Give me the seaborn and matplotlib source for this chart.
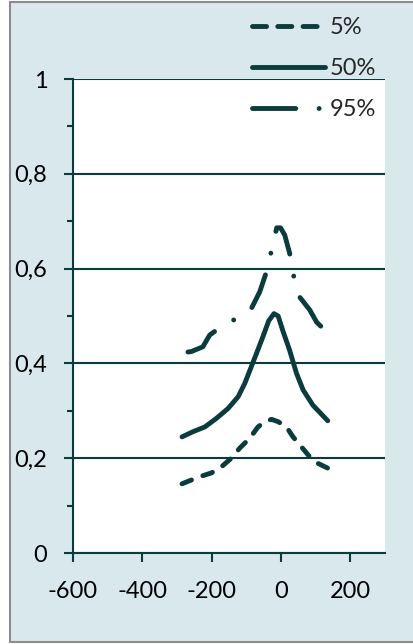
import matplotlib
matplotlib.use("Agg")
import matplotlib.pyplot as plt
import seaborn as sns
from matplotlib.lines import Line2D
from matplotlib.patches import Rectangle
from matplotlib.ticker import MultipleLocator, FuncFormatter

# datos
x_p5 = [-285, -234, -200, -171, -143, -119, -90, -66, -47, -27, -8, 16, 35, 59, 83, 107, 135]
y_p5 = [0.146, 0.161, 0.169, 0.182, 0.200, 0.221, 0.242, 0.266, 0.277, 0.282, 0.277,
        0.266, 0.245, 0.224, 0.203, 0.189, 0.179]

x_p50 = [-285, -253, -219, -186, -152, -123, -104, -88, -72, -52, -35, -20, -8, 6, 25,
         45, 64, 92, 135]
y_p50 = [0.245, 0.256, 0.266, 0.284, 0.305, 0.330, 0.358, 0.388, 0.418, 0.456, 0.490,
         0.505, 0.500, 0.468, 0.428, 0.379, 0.344, 0.312, 0.279]

x_p95 = [-268, -258, -225, -205, -186, -133, -87, -61, -38, -24, -12, -1, 11, 25, 37,
         54, 83, 103, 117, 135]
y_p95 = [0.424, 0.425, 0.435, 0.460, 0.470, 0.493, 0.513, 0.551, 0.601, 0.650, 0.686,
         0.686, 0.671, 0.633, 0.584, 0.540, 0.513, 0.487, 0.477, 0.477]

labels = ["5%", "50%", "95%"]
xticks = [-600, -400, -200, 0, 200]
yticks = [0, 0.2, 0.4, 0.6, 0.8, 1]

sns.set_theme(style="white")
plt.rcParams["font.family"] = ["Lato", "DejaVu Sans"]
plt.rcParams["axes.unicode_minus"] = False

teal = "#0b3b3c"
fondo = "#d9e8ed"
lw = 3.5
estilos = [(0, (2.1, 2.5)), "-", (0, (7.3, 4.6, 0.01, 4.6))]
# en la leyenda los trazos salen algo más largos
estilos_leyenda = [(0, (2.9, 2.3)), "-", (0, (8.9, 4.8, 0.01, 4.6))]

fig = plt.figure(figsize=(4.13, 6.44), dpi=100, facecolor="white")
fig.patches.append(Rectangle((10 / 413, 2 / 644), 1.2, 640 / 644, transform=fig.transFigure,
                             facecolor=fondo, edgecolor="#8c8c8c", linewidth=1.5, zorder=-10))

ax = fig.add_axes([72.7 / 413, 1 - 553 / 644, (385 - 72.7) / 413, (553 - 79) / 644])
ax.set_facecolor("white")

series = [(x_p5, y_p5), (x_p50, y_p50), (x_p95, y_p95)]
for (xs, ys), ls in zip(series, estilos):
    sns.lineplot(x=xs, y=ys, ax=ax, color=teal, lw=lw, linestyle=ls, sort=False,
                 dash_capstyle="round", solid_capstyle="round", solid_joinstyle="round")

handles = [Line2D([], [], color=teal, lw=lw, linestyle=ls,
                  dash_capstyle="round", solid_capstyle="round")
           for ls in estilos_leyenda]

ax.set_xlim(-600, 300)
ax.set_ylim(0, 1)
ax.set_xticks(xticks)
ax.set_yticks(yticks)
ax.yaxis.set_minor_locator(MultipleLocator(0.1))
ax.yaxis.set_major_formatter(FuncFormatter(lambda v, p: f"{v:g}".replace(".", ",")))
ax.grid(axis="y", which="major", color=teal, lw=1.5)
ax.set_axisbelow(True)

for s in ["top", "right"]:
    ax.spines[s].set_visible(False)
for s in ["left", "bottom"]:
    ax.spines[s].set_color(teal)
    ax.spines[s].set_linewidth(1.5)

ax.tick_params(axis="both", which="major", direction="out", length=6.2, width=1.5,
               color=teal, labelsize=17, labelcolor="black", pad=12,
               left=True, bottom=True)
ax.tick_params(axis="x", which="major", pad=14)
ax.tick_params(axis="y", which="minor", direction="out", length=4.3, width=1.5,
               color=teal, left=True)

fig.legend(handles, labels, loc="upper left", bbox_to_anchor=(252 / 413, 1 - 17 / 644),
           frameon=False, fontsize=17, handlelength=3.1, handletextpad=0.2,
           labelspacing=0.85, borderpad=0, borderaxespad=0)

fig.savefig("out.png", dpi=100, facecolor="white")
